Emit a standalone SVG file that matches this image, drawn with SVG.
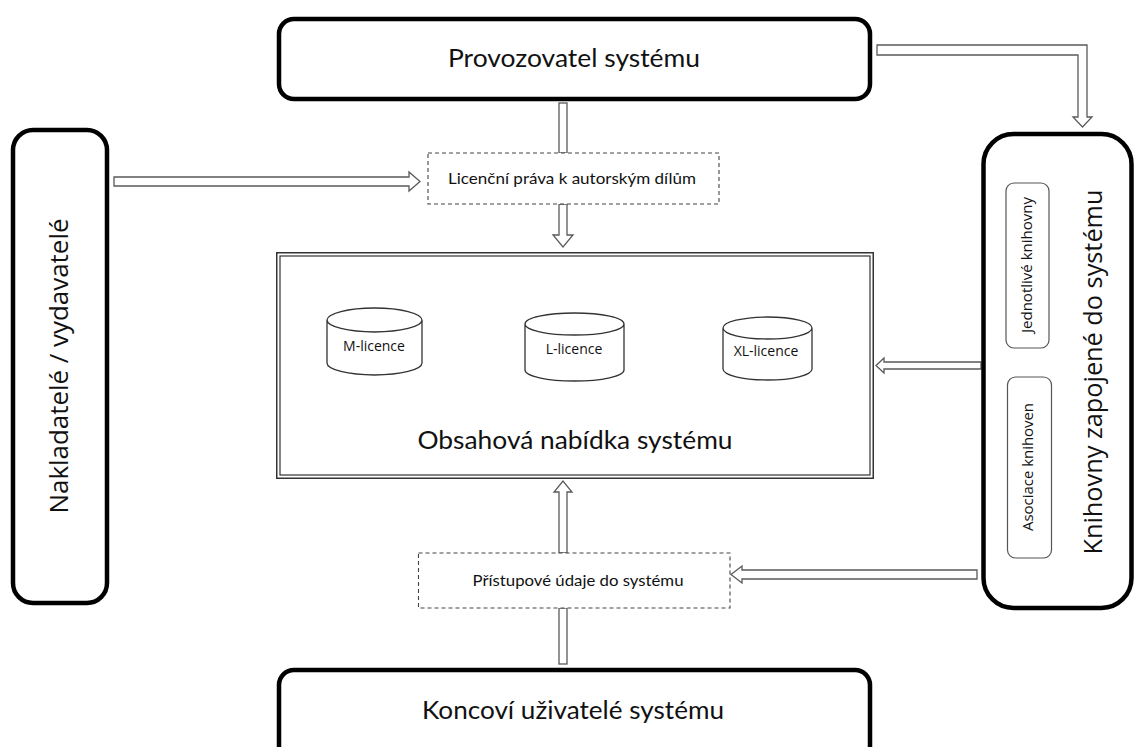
<svg xmlns="http://www.w3.org/2000/svg" width="1135" height="747" viewBox="0 0 1135 747">
<style>
.actor{fill:#fff;stroke:#000;stroke-width:4.5}
.dash{fill:#fff;stroke:#444;stroke-width:1.1;stroke-dasharray:4 3}
.dbl{fill:none;stroke:#333}
.cyl{fill:#fff;stroke:#333;stroke-width:1.3}
.sub{fill:#fff;stroke:#555;stroke-width:1.2}
.arr{fill:#fff;stroke:#5a5a5a;stroke-width:1.3;stroke-linejoin:miter}
.big{font-family:Lato,"Open Sans",sans-serif;font-size:25px;fill:#111;text-anchor:middle}
.mid{font-family:Lato,"Open Sans",sans-serif;font-size:16px;fill:#111;text-anchor:middle}
.rot{font-family:"Open Sans","Noto Sans",sans-serif;font-size:25px;fill:#111;text-anchor:middle}
.sm{font-family:"Open Sans","Noto Sans",sans-serif;font-size:14px;fill:#111;text-anchor:middle}
.cl{font-family:"Open Sans","Noto Sans",sans-serif;font-size:14px;fill:#111;text-anchor:middle}
</style>
<rect width="1135" height="747" fill="#fff"/>
<g id="connectors">
  <rect class="arr" x="559" y="103" width="8" height="50"/>
  <polygon class="arr" points="559,204 567,204 567,235 573,235 563,247 553,235 559,235"/>
  <polygon class="arr" points="114,177 409,177 409,172 420,181.5 409,191 409,186 114,186"/>
  <polygon class="arr" points="877,45 1087,45 1087,117 1092,117 1082.5,127 1073,117 1078,117 1078,55 877,55"/>
  <polygon class="arr" points="981,362 884,362 884,358 876,365.5 884,373 884,369 981,369"/>
  <polygon class="arr" points="977,570 742,570 742,566 731,574.5 742,583 742,579 977,579"/>
  <rect class="arr" x="559" y="608" width="8" height="56"/>
  <polygon class="arr" points="559,553 559,492 554,492 563,481 572,492 567,492 567,553"/>
</g>
<g id="provozovatel">
  <rect class="actor" x="279" y="19" width="591" height="80" rx="15"/>
  <text class="big" x="574" y="67" textLength="252" lengthAdjust="spacingAndGlyphs">Provozovatel systému</text>
</g>
<g id="nakladatele">
  <rect class="actor" x="13" y="130" width="94" height="473" rx="20"/>
  <text class="rot" transform="translate(68,366) rotate(-90)" textLength="295" lengthAdjust="spacingAndGlyphs">Nakladatelé / vydavatelé</text>
</g>
<g id="knihovny">
  <rect class="actor" x="983.5" y="134" width="148" height="474" rx="30"/>
  <text class="rot" transform="translate(1102,372) rotate(-90)" textLength="365" lengthAdjust="spacingAndGlyphs">Knihovny zapojené do systému</text>
</g>
<g id="jednotlive">
  <rect class="sub" x="1006" y="183" width="43" height="165" rx="8"/>
  <text class="sm" transform="translate(1032,265) rotate(-90)" textLength="136" lengthAdjust="spacingAndGlyphs">Jednotlivé knihovny</text>
</g>
<g id="asociace">
  <rect class="sub" x="1007.5" y="377" width="44" height="181" rx="8"/>
  <text class="sm" transform="translate(1033,467) rotate(-90)" textLength="128" lengthAdjust="spacingAndGlyphs">Asociace knihoven</text>
</g>
<g id="licencni-prava">
  <rect class="dash" x="428" y="153" width="291" height="51"/>
  <text class="mid" x="572" y="184" textLength="248" lengthAdjust="spacingAndGlyphs">Licenční práva k autorským dílům</text>
</g>
<g id="obsahova-nabidka">
  <rect x="277" y="253" width="596" height="225" fill="#fff"/>
  <rect class="dbl" x="276.75" y="252.75" width="596.5" height="225.5" stroke-width="1.5"/>
  <rect class="dbl" x="280" y="256" width="590" height="219" stroke-width="1.2"/>
  <text class="big" x="575" y="449" textLength="315" lengthAdjust="spacingAndGlyphs">Obsahová nabídka systému</text>
</g>
<g id="m-licence">
  <path class="cyl" d="M327,320 A47.5,12 0 0,1 422,320 V363 A47.5,12 0 0,1 327,363 Z M327,320 A47.5,12 0 0,0 422,320"/>
  <text class="cl" x="374" y="351">M-licence</text>
</g>
<g id="l-licence">
  <path class="cyl" d="M525,324 A49.5,11 0 0,1 624,324 V370 A49.5,11 0 0,1 525,370 Z M525,324 A49.5,11 0 0,0 624,324"/>
  <text class="cl" x="574" y="354">L-licence</text>
</g>
<g id="xl-licence">
  <path class="cyl" d="M723,328 A44.5,11 0 0,1 812,328 V369 A44.5,11 0 0,1 723,369 Z M723,328 A44.5,11 0 0,0 812,328"/>
  <text class="cl" x="766" y="356">XL-licence</text>
</g>
<g id="pristupove-udaje">
  <rect class="dash" x="418.5" y="553" width="311.5" height="55"/>
  <text class="mid" x="578" y="586" textLength="211" lengthAdjust="spacingAndGlyphs">Přístupové údaje do systému</text>
</g>
<g id="koncovi-uzivatele">
  <rect class="actor" x="279" y="670" width="591" height="100" rx="15"/>
  <text class="big" x="573" y="719" textLength="302" lengthAdjust="spacingAndGlyphs">Koncoví uživatelé systému</text>
</g>
</svg>
